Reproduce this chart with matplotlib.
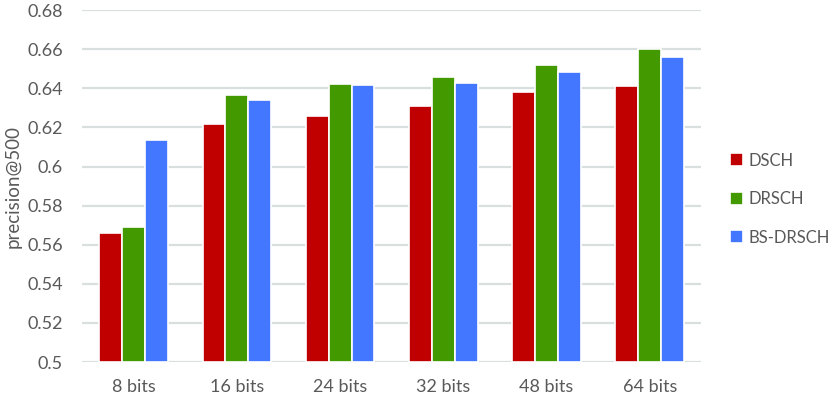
import numpy as np
import matplotlib.pyplot as plt

plt.rcParams['font.family'] = ['Lato', 'DejaVu Sans']

categories = ["8 bits", "16 bits", "24 bits", "32 bits", "48 bits", "64 bits"]
dsch = [0.566, 0.6215, 0.626, 0.631, 0.638, 0.641]
drsch = [0.569, 0.6365, 0.642, 0.646, 0.652, 0.660]
bs_drsch = [0.6135, 0.634, 0.6415, 0.6425, 0.6485, 0.656]
series = [("DSCH", dsch, "#C00000"),
          ("DRSCH", drsch, "#439A00"),
          ("BS-DRSCH", bs_drsch, "#4477FF")]

fig = plt.figure(figsize=(8.29, 3.99), dpi=100)
ax = fig.add_axes([0.099, 0.0927, 0.747, 0.882])

x = np.arange(len(categories))
w = 0.222
for i, (name, vals, col) in enumerate(series):
    ax.bar(x + (i - 1) * w, np.array(vals) - 0.5, width=w, bottom=0.5,
           color=col, edgecolor="white", linewidth=1.2, label=name, zorder=3)

ax.set_xlim(-0.5, len(categories) - 0.5)
ax.set_ylim(0.5, 0.68)
ax.set_yticks(np.arange(0.5, 0.681, 0.02))
ax.set_yticklabels(["0.5", "0.52", "0.54", "0.56", "0.58", "0.6",
                    "0.62", "0.64", "0.66", "0.68"])
ax.set_xticks(x)
ax.set_xticklabels(categories)
ax.tick_params(length=0, labelsize=13, colors="#595959")
ax.tick_params(axis="x", pad=12)
ax.tick_params(axis="y", pad=14)
ax.grid(axis="y", color="#D9DEDE", linewidth=1.6, zorder=0)
for s in ax.spines.values():
    s.set_visible(False)
ax.set_ylabel("precision@500", fontsize=13.5, color="#595959", labelpad=4)

ax.legend(loc="center left", bbox_to_anchor=(1.022, 0.463), frameon=False,
          fontsize=12, labelcolor="#595959", handlelength=0.8,
          handleheight=0.8, handletextpad=0.3, labelspacing=1.35)

fig.savefig("out.png", dpi=100)
